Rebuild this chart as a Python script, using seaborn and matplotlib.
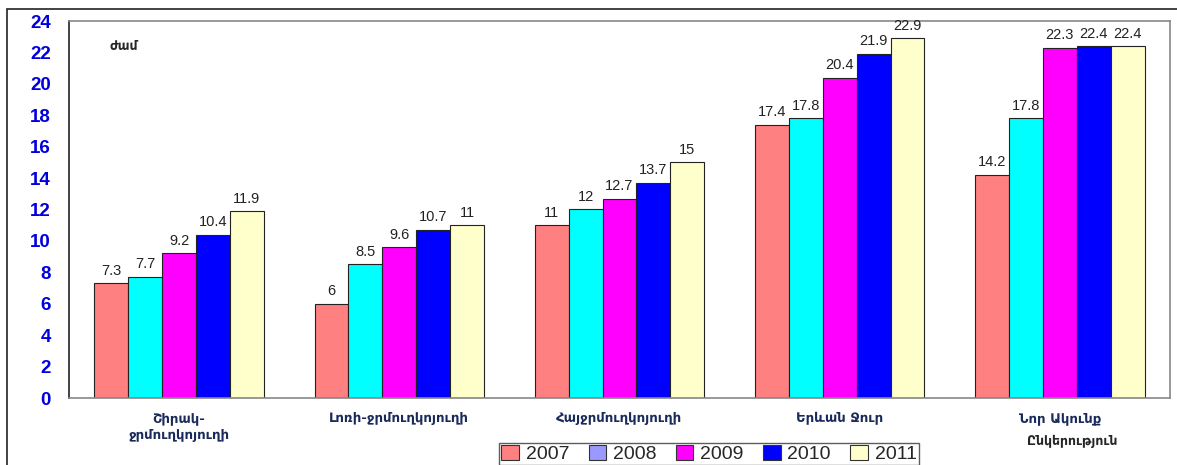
import matplotlib
matplotlib.use("Agg")
import matplotlib.pyplot as plt
from matplotlib.patches import Patch, Rectangle
import seaborn as sns
import pandas as pd
import numpy as np

# data
categories = ["Շիրակ-\nջրմուղկոյուղի", "Լոռի-ջրմուղկոյուղի", "Հայջրմուղկոյուղի",
              "Երևան Ջուր", "Նոր Ակունք"]
years = ["2007", "2008", "2009", "2010", "2011"]
v2007 = [7.3, 6, 11, 17.4, 14.2]
v2008 = [7.7, 8.5, 12, 17.8, 17.8]
v2009 = [9.2, 9.6, 12.7, 20.4, 22.3]
v2010 = [10.4, 10.7, 13.7, 21.9, 22.4]
v2011 = [11.9, 11, 15, 22.9, 22.4]

bar_colors = ["#FF8080", "#00FFFF", "#FF00FF", "#0000FF", "#FFFFCC"]
legend_colors = ["#FF8080", "#9999FF", "#FF00FF", "#0000FF", "#FFFFCC"]

rows = []
for y, vals in zip(years, [v2007, v2008, v2009, v2010, v2011]):
    for c, v in zip(categories, vals):
        rows.append({"category": c, "year": y, "value": v})
df = pd.DataFrame(rows)

sns.set_style("white")
plt.rcParams['font.family'] = ['Liberation Sans', 'DejaVu Sans']

fig = plt.figure(figsize=(11.77, 4.65), dpi=100)
ax = fig.add_axes([69 / 1177, 1 - 398 / 465, (1170 - 69) / 1177, (398 - 21) / 465])

sns.barplot(data=df, x="category", y="value", hue="year", order=categories,
            hue_order=years, palette=bar_colors, width=0.77, edgecolor="#222222",
            linewidth=0.8, saturation=1, ax=ax, legend=False)

for cont in ax.containers:
    ax.bar_label(cont, labels=["%g" % b.get_height() for b in cont], padding=4,
                 fontsize=10.5, color="#222222")

ax.set_ylim(0, 24)
ax.set_yticks(np.arange(0, 25, 2))
ax.set_xlim(-0.5, 4.5)
ax.set_xlabel("")
ax.set_ylabel("")
ax.tick_params(axis="y", direction="out", length=7, width=1, color="#222222",
               labelsize=13.5, labelcolor="#0000DD", pad=6)
for t in ax.get_yticklabels():
    t.set_fontweight("bold")
ax.set_xticks(range(5))
ax.set_xticklabels(categories, fontsize=9.5, fontweight="bold", color="#1a2a5a",
                   family=["DejaVu Sans"], linespacing=1.4)
ax.set_xticks(np.arange(-0.5, 5, 1), minor=True)
ax.tick_params(axis="x", which="major", length=0, pad=10)
ax.tick_params(axis="x", which="minor", direction="out", length=6, color="#222222")

for side in ["top", "right", "bottom"]:
    ax.spines[side].set_color("#888888")
    ax.spines[side].set_linewidth(1.2)
ax.spines["left"].set_color("#222222")
ax.spines["left"].set_linewidth(1.2)

# unit and note text
fig.text(110 / 1177, 1 - 47 / 465, "ժամ", fontsize=9, fontweight="bold",
         family=["DejaVu Sans"], va="center")
fig.text(1072 / 1177, 1 - 441 / 465, "Ընկերություն", fontsize=9, fontweight="bold",
         family=["DejaVu Sans"], va="center", ha="center")

# legend
handles = [Patch(facecolor=c, edgecolor="#333333", linewidth=0.8) for c in legend_colors]
leg = fig.legend(handles, years, loc="upper center", bbox_to_anchor=(709 / 1177, 1 - 443 / 465),
                 ncol=5, fontsize=14, frameon=True, fancybox=False, edgecolor="#333333",
                 handlelength=0.9, handleheight=0.8, handletextpad=0.35, columnspacing=1.0,
                 borderpad=0.1, borderaxespad=0)
leg.get_frame().set_linewidth(1.0)

# outer chart frame
fig.patches.append(Rectangle((7 / 1177, -0.1), 1.2, 1 - 9 / 465 + 0.1, transform=fig.transFigure,
                             fill=False, edgecolor="#222222", linewidth=1.2))

fig.savefig("out.png", dpi=100)
